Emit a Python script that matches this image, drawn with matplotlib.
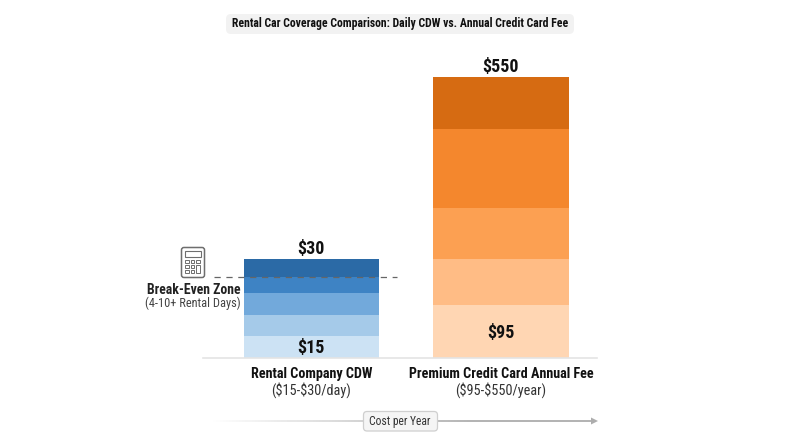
import matplotlib
matplotlib.use("Agg")
import matplotlib.pyplot as plt
from matplotlib import font_manager as fm
from matplotlib.patches import FancyBboxPatch, Rectangle, Polygon
from matplotlib.collections import LineCollection
import numpy as np

plt.rcParams["text.parse_math"] = False
names = {f.name for f in fm.fontManager.ttflist}
FONT = next((n for n in ["Roboto Condensed", "Liberation Sans Narrow", "Roboto"] if n in names), "DejaVu Sans")

TITLE = "Rental Car Coverage Comparison: Daily CDW vs. Annual Credit Card Fee"
categories = ["Rental Company CDW", "Premium Credit Card Annual Fee"]
ranges = ["($15-$30/day)", "($95-$550/year)"]
low_labels = ["$15", "$95"]
high_labels = ["$30", "$550"]
# visual band heights, bottom to top (chart is not drawn to scale)
cdw_bands = [22, 21, 22, 16, 18]
card_bands = [53, 46, 51, 79, 52]
cdw_colors = ["#CCE2F4", "#A5CAE9", "#72A9DB", "#3E83C4", "#2B6AA6"]
card_colors = ["#FFD6B3", "#FFBC85", "#FCA052", "#F4872D", "#D66B12"]

fig = plt.figure(figsize=(8, 4.47), dpi=100, facecolor="white")
W, H = 800, 447
L, R, B, T = 203, 597, 358, 40
ax = fig.add_axes([L / W, 1 - B / H, (R - L) / W, (B - T) / H])
ax.set_xlim(-0.5726, 1.5066)
ax.set_ylim(0, B - T)
for s in ["top", "left", "right"]:
    ax.spines[s].set_visible(False)
ax.spines["bottom"].set_color("#E4E4E4")
ax.spines["bottom"].set_linewidth(1.2)
ax.set_yticks([])
ax.set_xticks([])
ax.patch.set_alpha(0)

for i, (bands, cols) in enumerate([(cdw_bands, cdw_colors), (card_bands, card_colors)]):
    bottom = 0
    for h, c in zip(bands, cols):
        ax.bar(i, h, bottom=bottom, width=0.715, color=c, linewidth=0)
        bottom += h
    ax.annotate(high_labels[i], (i, bottom), xytext=(-0.4, 1), textcoords="offset points",
                ha="center", va="bottom", fontsize=13, fontweight="bold", family=FONT, color="#111111")
    ax.annotate(low_labels[i], (i, bands[0] / 2), xytext=(-0.4, -1), textcoords="offset points",
                ha="center", va="center", fontsize=13,
                fontweight="bold", family=FONT, color="#111111")
    ax.annotate(categories[i], (i, 0), xytext=(0, -6.5), textcoords="offset points", ha="center", va="top",
                fontsize=10.2, fontweight="bold", family=FONT, color="#111111")
    ax.annotate(ranges[i], (i, 0), xytext=(0, -17), textcoords="offset points", ha="center", va="top",
                fontsize=10.3, family=FONT, color="#333333")

ov = fig.add_axes([0, 0, 1, 1], zorder=5)
ov.set_xlim(0, W)
ov.set_ylim(H, 0)
ov.axis("off")

# title pill
ov.add_patch(FancyBboxPatch((226, 14), 348, 20, boxstyle="round,pad=0,rounding_size=5",
                            fc="#F2F2F2", ec="none"))
ov.text(400, 24, TITLE, ha="center", va="center", fontsize=8.5, fontweight="bold", family=FONT, color="#111111")

# break-even line and labels
ov.plot([214, 397], [276.5, 276.5], color="#666666", lw=0.9, dashes=(5, 4.5))
ov.text(193.5, 290.5, "Break-Even Zone", ha="center", va="center", fontsize=9.9, fontweight="bold", family=FONT, color="#222222")
ov.text(193, 303.5, "(4-10+ Rental Days)", ha="center", va="center", fontsize=8.9, family=FONT, color="#444444")

# calculator icon
ic = "#6E6E6E"
ov.add_patch(FancyBboxPatch((181.5, 247.5), 23, 30, boxstyle="round,pad=0,rounding_size=2.5", fc="white", ec=ic, lw=1.1))
ov.add_patch(Rectangle((185, 251), 16, 5.5, fc="none", ec=ic, lw=0.8))
for r, yy in enumerate([260, 265, 270]):
    for cc, xx in enumerate([185, 190.5, 196]):
        if cc == 2 and r > 0:
            continue
        ov.add_patch(Rectangle((xx, yy), 3.7, 3.2, fc="none", ec=ic, lw=0.7))
ov.add_patch(Rectangle((196, 265), 3.7, 8.2, fc="none", ec=ic, lw=0.7))

# cost arrow with fade in
xs = np.linspace(210, 592, 120)
segs = [[(a, 421), (b, 421)] for a, b in zip(xs[:-1], xs[1:])]
fade = np.clip((xs[:-1] - 210) / 260, 0, 1)
cols = [(0.68, 0.68, 0.68, a) for a in fade]
ov.add_collection(LineCollection(segs, colors=cols, linewidths=1.3))
ov.add_patch(Polygon([(591, 417.5), (598, 421), (591, 424.5)], closed=True, fc="#ADADAD", ec="none"))
ov.add_patch(FancyBboxPatch((363.5, 411.5), 74, 19.5, boxstyle="round,pad=0,rounding_size=3.5",
                            fc="#F5F5F5", ec="#CFCFCF", lw=0.9, zorder=4))
ov.text(400, 421, "Cost per Year", ha="center", va="center", fontsize=8.4, family=FONT, color="#333333", zorder=5)

fig.savefig("out.png", dpi=100)
